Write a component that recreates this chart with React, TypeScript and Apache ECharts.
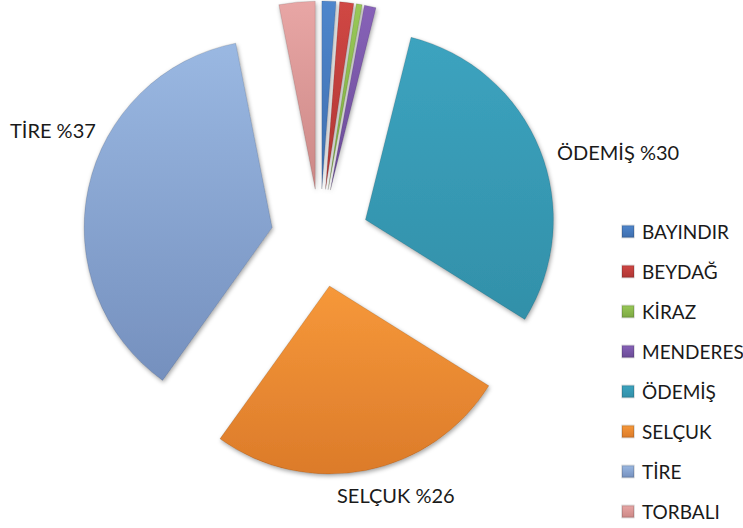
import React, { useEffect, useRef } from "react";
import * as echarts from "echarts";

const categories = ["BAYINDIR", "BEYDAĞ", "KİRAZ", "MENDERES", "ÖDEMİŞ", "SELÇUK", "TİRE", "TORBALI"];
const values = [1.2, 1.2, 0.5, 1.0, 30, 26, 37, 3.1];
const percentLabels = ["", "", "", "", "%30", "%26", "%37", ""];
const topColors = ["#4F86CC", "#D04744", "#98C857", "#8762B8", "#3CA3BF", "#F6983A", "#9AB8E2", "#E8A6A5"];
const bottomColors = ["#3E6EAE", "#AF3634", "#7CA842", "#6A4B96", "#3290A9", "#DC7B2A", "#7590BE", "#CC8886"];
const labelPos: Record<number, [number, number]> = { 4: [557, 152], 5: [337, 495], 6: [10, 130] };

export default function App() {
  const ref = useRef<HTMLDivElement>(null);
  useEffect(() => {
    if (!ref.current) return;
    const chart = echarts.init(ref.current, undefined, { renderer: "svg" });
    const data = categories.map((name, i) => ({
      name,
      value: values[i],
      selected: true,
      itemStyle: {
        color: new echarts.graphic.LinearGradient(0, 0, 0, 1, [
          { offset: 0, color: topColors[i] },
          { offset: 1, color: bottomColors[i] },
        ]),
      },
    }));
    const labels = categories
      .map((name, i) => ({ name, i }))
      .filter((d) => percentLabels[d.i] !== "")
      .map((d) => ({
        type: "text",
        x: labelPos[d.i][0],
        y: labelPos[d.i][1],
        style: {
          text: `${d.name} ${percentLabels[d.i]}`,
          fontFamily: "Lato",
          fontSize: 20,
          fill: "#1a1a1a",
          textAlign: "left",
          textVerticalAlign: "middle",
        },
      }));
    chart.setOption({
      animation: false,
      backgroundColor: "#ffffff",
      legend: {
        orient: "vertical",
        left: 621,
        top: 222,
        padding: 0,
        itemWidth: 12,
        itemHeight: 12,
        itemGap: 21,
        icon: "rect",
        selectedMode: false,
        textStyle: { fontFamily: "Lato", fontSize: 19, color: "#1a1a1a", padding: [0, 0, 0, 3] },
        data: categories,
      },
      graphic: labels,
      series: [
        {
          type: "pie",
          center: [320, 238],
          radius: [0, 188],
          startAngle: 90,
          clockwise: true,
          selectedMode: "multiple",
          selectedOffset: 49,
          data,
          itemStyle: {
            borderColor: "rgba(0,0,0,0.12)",
            borderWidth: 1,
            shadowColor: "rgba(0,0,0,0.35)",
            shadowBlur: 4,
            shadowOffsetX: 1,
            shadowOffsetY: 2,
          },
          emphasis: { disabled: true },
          label: { show: false },
          labelLine: { show: false },
        },
      ],
    });
    return () => chart.dispose();
  }, []);
  return <div ref={ref} style={{ position: "absolute", left: 0, top: 0, width: 743, height: 528 }} />;
}
